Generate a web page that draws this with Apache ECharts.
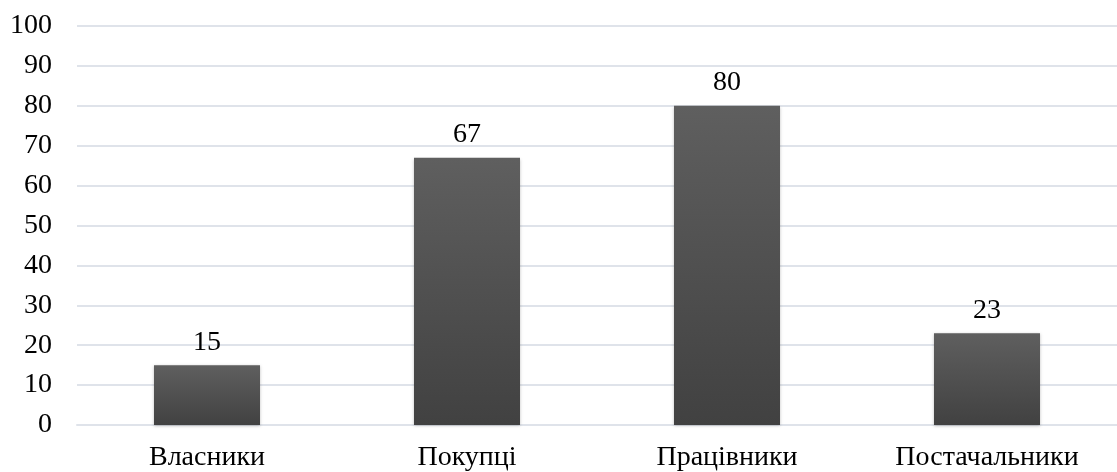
<!DOCTYPE html>
<html>
<head>
<meta charset="utf-8">
<script src="https://cdn.jsdelivr.net/npm/echarts@6/dist/echarts.min.js"></script>
<style>
  html, body { margin: 0; padding: 0; background: #fff; }
  #chart { width: 1117px; height: 472px; }
</style>
</head>
<body>
<div id="chart"></div>
<script>
const categories = ["Власники", "Покупці", "Працівники", "Постачальники"];
const values = [15, 67, 80, 23];
const yTicks = [0, 10, 20, 30, 40, 50, 60, 70, 80, 90, 100];

const font = "'Liberation Serif', 'DejaVu Serif', serif";
const chart = echarts.init(document.getElementById("chart"));

chart.setOption({
  animation: false,
  grid: { left: 77, top: 26, width: 1048, height: 399, containLabel: false },
  xAxis: {
    type: "category",
    data: categories,
    axisLine: { show: true, lineStyle: { color: "#dfe3ea", width: 2 } },
    axisTick: { show: false },
    axisLabel: { color: "#000", fontFamily: font, fontSize: 28, margin: 19 },
  },
  yAxis: {
    type: "value",
    min: yTicks[0],
    max: yTicks[yTicks.length - 1],
    interval: 10,
    axisLine: { show: false },
    axisTick: { show: false },
    splitLine: { lineStyle: { color: "#dfe3ea", width: 2 } },
    axisLabel: { color: "#000", fontFamily: font, fontSize: 28, margin: 25 },
  },
  series: [
    {
      type: "bar",
      data: values,
      barWidth: 106,
      itemStyle: {
        color: new echarts.graphic.LinearGradient(0, 0, 0, 1, [
          { offset: 0, color: "#5f5f5f" },
          { offset: 1, color: "#414141" },
        ]),
        shadowColor: "rgba(0,0,0,0.25)",
        shadowBlur: 3,
        shadowOffsetY: 1,
      },
      label: {
        show: true,
        position: "top",
        distance: 9,
        color: "#000",
        fontFamily: font,
        fontSize: 28,
      },
    },
  ],
});
</script>
</body>
</html>
